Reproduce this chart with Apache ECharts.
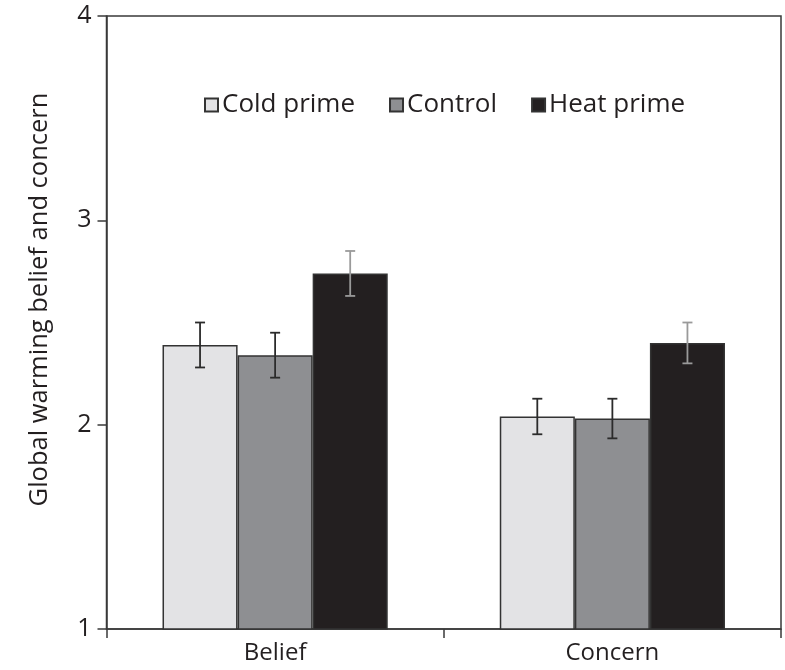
<!DOCTYPE html>
<html>
<head>
<meta charset="utf-8">
<script src="https://cdn.jsdelivr.net/npm/echarts@6/dist/echarts.min.js"></script>
<style>
html,body{margin:0;padding:0;background:#fff;}
#chart{width:785px;height:670px;}
</style>
</head>
<body>
<div id="chart"></div>
<script>
var categories = ['Belief', 'Concern'];
var seriesNames = ['Cold prime', 'Control', 'Heat prime'];
var coldValues = [2.39, 2.04];
var controlValues = [2.34, 2.03];
var heatValues = [2.74, 2.40];
var coldErrors = [0.11, 0.087];
var controlErrors = [0.11, 0.097];
var heatErrors = [0.11, 0.10];
var yTicks = [1, 2, 3, 4];

var FONT = '"Open Sans", "DejaVu Sans", sans-serif';
var TEXT = '#231f20';
var BAR_FRAC = 0.2226; // each bar as fraction of category band
var fills = ['#e3e3e5', '#8e8f92', '#231f20'];
var errColors = ['#2b2b2b', '#2b2b2b', '#9a9a9a'];
var values = [coldValues, controlValues, heatValues];
var errors = [coldErrors, controlErrors, heatErrors];

var chart = echarts.init(document.getElementById('chart'), null, {renderer: 'canvas'});

var series = [];
for (var k = 0; k < 3; k++) {
  series.push({
    name: seriesNames[k],
    type: 'bar',
    data: values[k],
    barWidth: (BAR_FRAC * 100) + '%',
    barGap: '0%',
    itemStyle: {color: fills[k], borderColor: '#333', borderWidth: 1.5},
    emphasis: {disabled: true},
    z: 2
  });
}
for (var k2 = 0; k2 < 3; k2++) {
  (function (k) {
    var d = values[k].map(function (v, i) { return [i, v, errors[k][i]]; });
    series.push({
      type: 'custom',
      name: seriesNames[k] + ' err',
      data: d,
      z: 5,
      silent: true,
      encode: {x: 0, y: 1},
      renderItem: function (params, api) {
        var cat = api.value(0), v = api.value(1), e = api.value(2);
        var band = api.size([1, 0])[0];
        var off = (k - 1) * band * BAR_FRAC;
        var top = api.coord([cat, v + e]);
        var bot = api.coord([cat, v - e]);
        var x = top[0] + off;
        var cap = 5;
        var st = {stroke: errColors[k], lineWidth: 1.8};
        return {
          type: 'group',
          children: [
            {type: 'line', shape: {x1: x, y1: top[1], x2: x, y2: bot[1]}, style: st},
            {type: 'line', shape: {x1: x - cap, y1: top[1], x2: x + cap, y2: top[1]}, style: st},
            {type: 'line', shape: {x1: x - cap, y1: bot[1], x2: x + cap, y2: bot[1]}, style: st}
          ]
        };
      }
    });
  })(k2);
}

chart.setOption({
  animation: false,
  backgroundColor: '#fff',
  textStyle: {fontFamily: FONT, color: TEXT},
  grid: {left: 106.5, right: 4, top: 16, bottom: 41, show: true, borderColor: '#3a3a3a', borderWidth: 1.5, backgroundColor: 'transparent'},
  legend: {
    data: seriesNames,
    left: 204, top: 92,
    padding: 0,
    icon: 'rect',
    itemWidth: 13, itemHeight: 13,
    itemGap: 34,
    selectedMode: false,
    textStyle: {fontFamily: FONT, fontSize: 26, color: TEXT, padding: [0, 0, 0, -1]}
  },
  xAxis: {
    type: 'category',
    data: categories,
    boundaryGap: true,
    axisLine: {lineStyle: {color: '#3a3a3a', width: 1.5}},
    axisTick: {show: true, length: 9, lineStyle: {color: '#3a3a3a', width: 1.5}},
    axisLabel: {fontFamily: FONT, fontSize: 24, color: TEXT, margin: 12},
    splitLine: {show: false}
  },
  yAxis: {
    type: 'value',
    min: yTicks[0], max: yTicks[yTicks.length - 1], interval: 1,
    name: 'Global warming belief and concern',
    nameLocation: 'middle',
    nameGap: 54,
    nameRotate: 90,
    nameTextStyle: {fontFamily: FONT, fontSize: 25.5, color: TEXT, padding: [0, 0, 0, 46]},
    axisLine: {show: true, lineStyle: {color: '#3a3a3a', width: 1.5}},
    axisTick: {show: true, length: 9, lineStyle: {color: '#3a3a3a', width: 1.5}},
    axisLabel: {fontFamily: FONT, fontSize: 25, color: TEXT, margin: 15},
    splitLine: {show: false}
  },
  series: series
});
</script>
</body>
</html>
